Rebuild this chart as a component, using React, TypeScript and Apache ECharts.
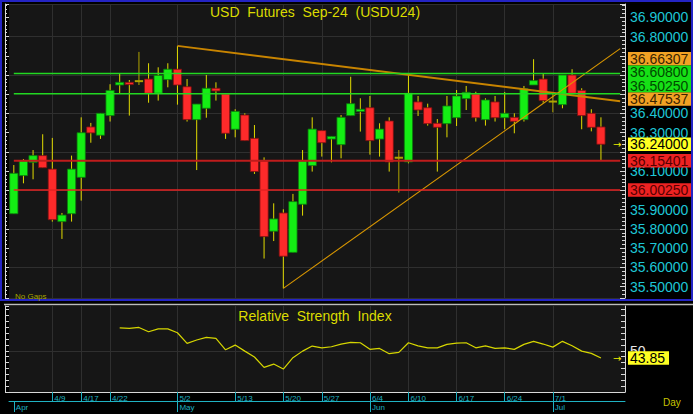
import React, { useEffect, useRef } from 'react';
import * as echarts from 'echarts';

// ---------- data ----------
const dates = [
  '4/3', '4/4', '4/5', '4/8', '4/9', '4/10', '4/12', '4/17', '4/18', '4/19',
  '4/22', '4/23', '4/24', '4/25', '4/26', '4/29', '4/30', '5/2', '5/3', '5/6',
  '5/7', '5/8', '5/10', '5/13', '5/14', '5/15', '5/16', '5/17', '5/20', '5/21',
  '5/22', '5/23', '5/27', '5/28', '5/29', '5/30', '5/31', '6/4', '6/5', '6/6',
  '6/7', '6/10', '6/11', '6/12', '6/13', '6/14', '6/17', '6/18', '6/19', '6/20',
  '6/21', '6/24', '6/25', '6/26', '6/27', '6/28', '7/1', '7/2', '7/3', '7/5',
  '7/8', '7/9',
];

const opens = [
  35.879, 36.077, 36.146, 36.181, 36.111, 35.838, 35.879, 36.068, 36.330, 36.287,
  36.389, 36.548, 36.562, 36.568, 36.579, 36.505, 36.576, 36.630, 36.539, 36.368,
  36.427, 36.531, 36.501, 36.318, 36.392, 36.271, 36.153, 35.788, 35.883, 35.678,
  35.928, 36.129, 36.311, 36.267, 36.238, 36.389, 36.410, 36.430, 36.267, 36.361,
  36.170, 36.148, 36.460, 36.430, 36.349, 36.347, 36.378, 36.477, 36.501, 36.368,
  36.460, 36.378, 36.380, 36.368, 36.548, 36.579, 36.462, 36.446, 36.600, 36.520,
  36.401, 36.330,
];
const closes = [
  36.089, 36.153, 36.181, 36.118, 35.848, 35.872, 36.111, 36.300, 36.299, 36.401,
  36.520, 36.562, 36.550, 36.568, 36.505, 36.598, 36.630, 36.548, 36.368, 36.449,
  36.531, 36.517, 36.297, 36.411, 36.259, 36.098, 35.760, 35.852, 35.658, 35.942,
  36.153, 36.319, 36.248, 36.281, 36.380, 36.451, 36.422, 36.259, 36.319, 36.148,
  36.170, 36.505, 36.418, 36.347, 36.328, 36.439, 36.491, 36.510, 36.378, 36.470,
  36.378, 36.401, 36.359, 36.529, 36.571, 36.467, 36.462, 36.600, 36.505, 36.389,
  36.328, 36.240,
];
const lows = [
  35.879, 36.037, 36.058, 36.118, 35.838, 35.748, 35.838, 35.947, 36.248, 36.268,
  36.358, 36.505, 36.389, 36.548, 36.456, 36.467, 36.536, 36.446, 36.358, 36.106,
  36.378, 36.467, 36.268, 36.276, 36.259, 36.086, 35.646, 35.737, 35.491, 35.678,
  35.869, 36.098, 36.176, 36.146, 36.167, 36.389, 36.306, 36.186, 36.176, 36.098,
  35.989, 36.141, 36.387, 36.337, 36.098, 36.276, 36.335, 36.418, 36.358, 36.337,
  36.358, 36.318, 36.297, 36.358, 36.548, 36.456, 36.406, 36.427, 36.505, 36.318,
  36.307, 36.154,
];
const highs = [
  36.132, 36.163, 36.210, 36.292, 36.273, 35.883, 36.181, 36.380, 36.351, 36.401,
  36.552, 36.607, 36.574, 36.720, 36.661, 36.640, 36.661, 36.751, 36.579, 36.449,
  36.600, 36.562, 36.501, 36.422, 36.401, 36.340, 36.172, 35.933, 35.902, 35.982,
  36.210, 36.380, 36.311, 36.281, 36.392, 36.591, 36.479, 36.491, 36.349, 36.380,
  36.210, 36.600, 36.491, 36.451, 36.371, 36.491, 36.522, 36.543, 36.513, 36.479,
  36.491, 36.512, 36.401, 36.543, 36.682, 36.609, 36.512, 36.600, 36.630, 36.531,
  36.422, 36.380,
];

const rsiValues: (number | null)[] = [
  null, null, null, null, null, null, null, null, null, null, null,
  69.5, 69.0, 69.8, 66.1, 68.6, 68.6, 65.3, 56.3, 59.1, 61.4,
  60.5, 50.8, 54.8, 49.7, 44.7, 35.9, 38.7, 34.5, 44.1, 49.7,
  54.0, 52.5, 53.4, 55.7, 57.1, 56.8, 51.2, 52.0, 47.5, 48.6,
  56.8, 54.2, 52.5, 52.5, 55.4, 56.5, 56.8, 52.5, 54.2, 52.0,
  52.5, 51.2, 55.4, 58.0, 55.7, 53.1, 58.0, 54.2, 49.7, 47.8,
  43.85,
];

const xTickDates = ['4/9', '4/17', '4/22', '5/2', '5/13', '5/20', '5/27', '6/4', '6/10', '6/17', '6/24', '7/1'];
const monthStartDates = ['4/3', '5/2', '6/4', '7/1'];
const monthNames = ['Apr', 'May', 'Jun', 'Jul'];

const greenLevels = [36.608, 36.5025];
const redLevels = [36.15401, 36.0025];
const levelSpan = [0, 63];
const trendDown = [[17, 36.751], [63, 36.4635]];
const trendUp = [[28, 35.491], [63, 36.737]];
const trendLabels = [36.66307, 36.47537];
const lastPrice = 36.24;
const rsiLast = 43.85;
const rsiGridLevel = 50;

// ---------- layout / style ----------
const FONT = 'Liberation Sans';
const GRID_LEFT = 9;
const GRID_RIGHT = 68;
const MAIN_TOP = 4;
const MAIN_H = 294;
const RSI_TOP = 306;
const RSI_H = 86;
const PRICE_MIN = 35.441;
const PRICE_MAX = 36.969;
const RSI_MIN = 15;
const RSI_MAX = 88;
const BOX_H = 13.4;
const PX_PER_UNIT = MAIN_H / (PRICE_MAX - PRICE_MIN);
const EDGE_IDX = 63;
const CYAN = '#1ec6d6';
const XCYAN = '#1fb2c2';
const GRIDC = '#2f2f2f';
const AXISW = '#d8d8d8';
const CLEAR = 'rgba(0,0,0,0)';

const categories = [...dates, ' ', '  '];
const candleData = dates.map((_, i) => [i, opens[i], closes[i], lows[i], highs[i]]);

const isTick = (_: number, v: string) => xTickDates.includes(v);
const isMonth = (_: number, v: string) => monthStartDates.includes(v);

const boxStyles: Record<string, { bg: string; fg: string }> = {
  orange: { bg: '#f2a224', fg: '#3a2400' },
  green: { bg: '#16e016', fg: '#004a00' },
  yellow: { bg: '#ffff22', fg: '#000000' },
  red: { bg: '#ee2222', fg: '#560000' },
};

type Box = { value: number; kind: string; pos: number };
const boxes: Box[] = [
  ...trendLabels.map((v) => ({ value: v, kind: 'orange', pos: v })),
  ...greenLevels.map((v) => ({ value: v, kind: 'green', pos: v })),
  { value: lastPrice, kind: 'yellow', pos: lastPrice },
  ...redLevels.map((v) => ({ value: v, kind: 'red', pos: v })),
];
{
  const gap = BOX_H / PX_PER_UNIT;
  const sorted = [...boxes].sort((a, b) => a.value - b.value);
  let prev = -Infinity;
  sorted.forEach((b) => {
    b.pos = Math.max(b.value, prev + gap);
    prev = b.pos;
  });
}
// axis labels that sit under a value box are covered in the reference
const coveredByBox = (v: number) => boxes.some((b) => Math.abs(b.pos - v) * PX_PER_UNIT < 9);

const boxLabel = (text: string, kind: string) => ({
  show: true,
  position: 'right',
  distance: 7.3,
  formatter: () => text,
  color: boxStyles[kind].fg,
  backgroundColor: boxStyles[kind].bg,
  padding: [0, 4, 0, 2],
  fontSize: 14,
  lineHeight: BOX_H,
  fontFamily: FONT,
});

const arrowLabel = {
  show: true,
  position: 'inside',
  formatter: () => '\u2192',
  color: '#f0f000',
  fontSize: 10,
  fontFamily: 'DejaVu Sans',
  offset: [-3, 0],
};

const markPoints = (items: { y: number; label: any }[]) => ({
  symbol: 'circle',
  symbolSize: 1,
  silent: true,
  itemStyle: { color: CLEAR },
  data: items.map((it) => ({ coord: [EDGE_IDX, it.y], label: it.label })),
});

const mainPoints = markPoints([
  ...boxes.map((b) => ({ y: b.pos, label: boxLabel(b.value.toFixed(5), b.kind) })),
  { y: lastPrice, label: arrowLabel },
]);
const rsiPoints = markPoints([
  { y: rsiLast, label: boxLabel(rsiLast.toFixed(2), 'yellow') },
  { y: rsiLast, label: arrowLabel },
]);

const levelSeries = [
  ...greenLevels.map((v) => ({ v, color: '#22d822', width: 1.5 })),
  ...redLevels.map((v, i) => ({ v, color: i === 0 ? '#c01c1c' : '#e42222', width: i === 0 ? 2 : 1.5 })),
].map((lv, k) => ({
  type: 'line',
  name: 'level' + k,
  xAxisIndex: 0,
  yAxisIndex: 0,
  data: levelSpan.map((x) => [x, lv.v]),
  showSymbol: false,
  silent: true,
  clip: false,
  z: 8,
  emphasis: { disabled: true },
  itemStyle: { color: lv.color },
  lineStyle: { color: lv.color, width: lv.width, type: 'solid', opacity: 1 },
}));

const rsiSplitColors = Array.from({ length: 16 }, (_, i) =>
  RSI_MIN + i * 5 === rsiGridLevel ? GRIDC : CLEAR
);

const textEl = (text: string, x: number, y: number, size: number, fill: string, align = 'left') => ({
  type: 'text',
  x,
  y,
  silent: true,
  z: 20,
  style: {
    text,
    fill,
    fontSize: size,
    fontFamily: FONT,
    align,
    textAlign: align,
    verticalAlign: 'middle',
    textVerticalAlign: 'middle',
  },
});

const option: any = {
  animation: false,
  backgroundColor: '#000000',
  textStyle: { fontFamily: FONT },
  grid: [
    { left: GRID_LEFT, right: GRID_RIGHT, top: MAIN_TOP, height: MAIN_H, show: true, backgroundColor: '#161616', borderWidth: 0 },
    { left: GRID_LEFT, right: GRID_RIGHT, top: RSI_TOP, height: RSI_H, show: true, backgroundColor: '#161616', borderWidth: 0 },
  ],
  xAxis: [
    {
      gridIndex: 0,
      type: 'category',
      data: categories,
      boundaryGap: true,
      axisLine: { show: false },
      axisTick: { show: false },
      axisLabel: { show: false },
      splitLine: { show: true, interval: isTick, alignWithLabel: true, lineStyle: { color: GRIDC, width: 1 } },
    },
    {
      gridIndex: 1,
      type: 'category',
      data: categories,
      boundaryGap: true,
      position: 'bottom',
      axisLine: { show: true, lineStyle: { color: AXISW, width: 1 } },
      axisTick: { show: true, interval: isTick, alignWithLabel: true, length: 9, lineStyle: { color: XCYAN, width: 1 } },
      axisLabel: { show: true, interval: isTick, color: XCYAN, fontSize: 8, align: 'left', margin: 2, padding: [0, 0, 0, 2], fontFamily: FONT },
      splitLine: { show: true, interval: isTick, alignWithLabel: true, lineStyle: { color: GRIDC, width: 1 } },
    },
    {
      gridIndex: 1,
      type: 'category',
      data: categories,
      boundaryGap: true,
      position: 'bottom',
      offset: 9,
      axisLine: { show: true, lineStyle: { color: XCYAN, width: 1 } },
      axisTick: { show: true, interval: isMonth, alignWithLabel: true, length: 11, lineStyle: { color: XCYAN, width: 1 } },
      axisLabel: {
        show: true,
        interval: isMonth,
        formatter: (v: string) => monthNames[monthStartDates.indexOf(v)] || '',
        color: XCYAN,
        fontSize: 8,
        align: 'left',
        margin: 2,
        padding: [0, 0, 0, 2],
        fontFamily: FONT,
      },
      splitLine: { show: false },
    },
  ],
  yAxis: [
    {
      gridIndex: 0,
      type: 'value',
      position: 'right',
      min: PRICE_MIN,
      max: PRICE_MAX,
      splitNumber: 15,
      axisLine: { show: true, lineStyle: { color: AXISW, width: 1 } },
      axisTick: { show: true, inside: true, length: 5, lineStyle: { color: AXISW } },
      minorTick: { show: true, splitNumber: 5, length: 3, lineStyle: { color: AXISW } },
      axisLabel: {
        show: true,
        color: CYAN,
        fontSize: 14,
        margin: 5,
        fontFamily: FONT,
        showMinLabel: false,
        showMaxLabel: false,
        formatter: (v: number) => (coveredByBox(v) ? '' : v.toFixed(5)),
      },
      splitLine: { show: true, lineStyle: { color: [GRIDC, CLEAR], width: 1 } },
    },
    {
      gridIndex: 0,
      type: 'value',
      position: 'left',
      offset: 4,
      min: PRICE_MIN,
      max: PRICE_MAX,
      splitNumber: 15,
      axisLine: { show: true, lineStyle: { color: AXISW, width: 1 } },
      axisTick: { show: true, inside: true, length: 4, lineStyle: { color: AXISW } },
      minorTick: { show: true, splitNumber: 5, length: 2, lineStyle: { color: AXISW } },
      axisLabel: { show: false },
      splitLine: { show: false },
    },
    {
      gridIndex: 1,
      type: 'value',
      position: 'right',
      min: RSI_MIN,
      max: RSI_MAX,
      interval: 5,
      axisLine: { show: true, lineStyle: { color: AXISW, width: 1 } },
      axisTick: { show: true, inside: true, length: 4, lineStyle: { color: AXISW } },
      axisLabel: {
        show: true,
        color: '#e6e6e6',
        fontSize: 14,
        margin: 5,
        fontFamily: FONT,
        showMaxLabel: false,
        formatter: (v: number) => (v === rsiGridLevel ? String(rsiGridLevel) : ''),
      },
      splitLine: { show: true, lineStyle: { color: rsiSplitColors, width: 1 } },
    },
    {
      gridIndex: 1,
      type: 'value',
      position: 'left',
      offset: 4,
      min: RSI_MIN,
      max: RSI_MAX,
      interval: 5,
      axisLine: { show: true, lineStyle: { color: AXISW, width: 1 } },
      axisTick: { show: true, inside: true, length: 4, lineStyle: { color: AXISW } },
      axisLabel: { show: false },
      splitLine: { show: false },
    },
  ],
  series: [
    {
      type: 'custom',
      name: 'USDU24',
      xAxisIndex: 0,
      yAxisIndex: 0,
      data: candleData,
      encode: { x: 0, y: [1, 2, 3, 4] },
      z: 2,
      renderItem: (params: any, api: any) => {
        const idx = api.value(0);
        const o = api.value(1);
        const c = api.value(2);
        const l = api.value(3);
        const h = api.value(4);
        const pO = api.coord([idx, o]);
        const pC = api.coord([idx, c]);
        const pL = api.coord([idx, l]);
        const pH = api.coord([idx, h]);
        const bw = api.size([1, 0])[0] * 0.86;
        const x = pO[0];
        const doji = o === c;
        const children: any[] = [
          {
            type: 'line',
            shape: { x1: x, y1: pH[1], x2: x, y2: pL[1] },
            style: { stroke: doji ? '#b0a400' : '#e2dc00', lineWidth: 1 },
          },
        ];
        if (doji) {
          children.push({
            type: 'line',
            shape: { x1: x - bw / 2, y1: pO[1], x2: x + bw / 2, y2: pO[1] },
            style: { stroke: '#b0a400', lineWidth: 2 },
          });
        } else {
          const up = c > o;
          const top = Math.min(pO[1], pC[1]);
          const hh = Math.max(Math.abs(pO[1] - pC[1]), 1.5);
          children.push({
            type: 'rect',
            shape: { x: x - bw / 2, y: top, width: bw, height: hh },
            style: {
              fill: up ? '#14ee14' : '#fe2a2a',
              stroke: up ? '#0b7a0b' : '#7a1010',
              lineWidth: 0.8,
            },
          });
        }
        return { type: 'group', children };
      },
    },
    ...levelSeries,
    {
      type: 'line',
      name: 'Trend down',
      xAxisIndex: 0,
      yAxisIndex: 0,
      data: trendDown,
      showSymbol: false,
      clip: false,
      z: 3,
      lineStyle: { color: '#c88400', width: 1.8 },
      markPoint: mainPoints,
    },
    {
      type: 'line',
      name: 'Trend up',
      xAxisIndex: 0,
      yAxisIndex: 0,
      data: trendUp,
      showSymbol: false,
      clip: false,
      z: 3,
      lineStyle: { color: '#d89600', width: 1.1 },
    },
    {
      type: 'line',
      name: 'RSI',
      xAxisIndex: 1,
      yAxisIndex: 2,
      data: rsiValues,
      showSymbol: false,
      clip: false,
      lineStyle: { color: '#d6d600', width: 1.2 },
      markPoint: rsiPoints,
    },
  ],
  graphic: [
    {
      type: 'rect',
      silent: true,
      z: 10,
      shape: { x: 1, y: 1, width: 691, height: 299 },
      style: { fill: 'none', stroke: '#2424c4', lineWidth: 2 },
    },
    {
      type: 'line',
      silent: true,
      z: 10,
      shape: { x1: 4, y1: 304.5, x2: 693, y2: 304.5 },
      style: { stroke: '#bcbcbc', lineWidth: 1.5 },
    },
    textEl('USD  Futures  Sep-24  (USDU24)', 315, 12, 14, '#dcdc00', 'center'),
    textEl('Relative  Strength  Index', 315, 316, 14, '#dcdc00', 'center'),
    textEl('No Gaps', 15, 296, 8, '#a8a400'),
    textEl('Day', 663, 402, 10, '#c8c400'),
  ],
};

export default function App() {
  const ref = useRef<HTMLDivElement>(null);
  useEffect(() => {
    if (!ref.current) return;
    const chart = echarts.init(ref.current, null, { renderer: 'svg', width: 693, height: 414 });
    chart.setOption(option);
    return () => {
      chart.dispose();
    };
  }, []);
  return (
    <div
      ref={ref}
      style={{ position: 'fixed', left: 0, top: 0, width: 693, height: 414, background: '#000' }}
    />
  );
}
